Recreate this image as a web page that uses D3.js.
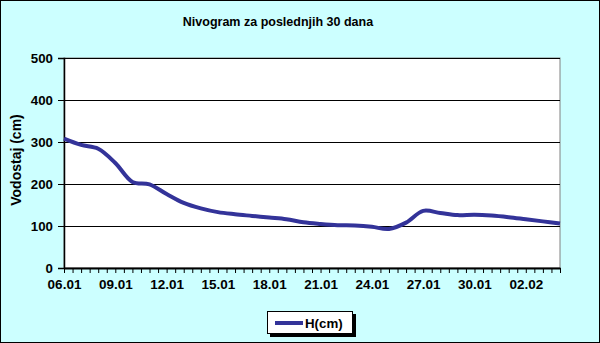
<!DOCTYPE html>
<html>
<head>
<meta charset="utf-8">
<script src="https://cdn.jsdelivr.net/npm/d3@7"></script>
<style>
  body { margin: 0; }
  svg text { font-family: "Liberation Sans", Arial, sans-serif; font-weight: bold; }
</style>
</head>
<body>
<div id="chart"></div>
<script>
// daily readings, 06.01 .. 04.02
const days = [
  '06.01', '07.01', '08.01', '09.01', '10.01', '11.01', '12.01', '13.01', '14.01', '15.01',
  '16.01', '17.01', '18.01', '19.01', '20.01', '21.01', '22.01', '23.01', '24.01', '25.01',
  '26.01', '27.01', '28.01', '29.01', '30.01', '31.01', '01.02', '02.02', '03.02', '04.02'
];
const levels = [
  308, 293, 284, 250, 205, 199, 176, 155, 142, 133,
  128, 124, 120, 116, 109, 105, 102, 101, 98, 93,
  108, 136, 131, 126, 127, 125, 121, 116, 111, 106
];
const yTicks = [0, 100, 200, 300, 400, 500];
const labelEvery = 3;
const seriesName = 'H(cm)';
const title = 'Nivogram za poslednjih 30 dana';
const yTitle = 'Vodostaj (cm)';

const width = 600;
const height = 343;
const margin = { top: 58, right: 40, bottom: 75, left: 64 };
const chartWidth = width - margin.left - margin.right;
const chartHeight = height - margin.top - margin.bottom;

const svg = d3.select('#chart').append('svg')
  .attr('width', width)
  .attr('height', height);

svg.append('rect')
  .attr('x', 0.5).attr('y', 0.5)
  .attr('width', width - 1).attr('height', height - 1)
  .attr('fill', '#ccffff')
  .attr('stroke', '#000');

svg.append('text')
  .attr('x', 278).attr('y', 26)
  .attr('text-anchor', 'middle')
  .style('font-size', '12.5px')
  .text(title);

const g = svg.append('g').attr('transform', `translate(${margin.left},${margin.top})`);

const xScale = d3.scaleLinear()
  .domain([0, days.length - 1])
  .range([0, chartWidth]);

const yScale = d3.scaleLinear()
  .domain([0, 500])
  .range([chartHeight, 0]);

g.append('rect')
  .attr('width', chartWidth)
  .attr('height', chartHeight)
  .attr('fill', '#fff')
  .attr('stroke', '#808080');

// gridlines
g.append('g')
  .selectAll('line')
  .data(yTicks.filter((d) => d > 0))
  .enter().append('line')
    .attr('x1', 0).attr('x2', chartWidth)
    .attr('y1', (d) => Math.round(yScale(d)) + 0.5)
    .attr('y2', (d) => Math.round(yScale(d)) + 0.5)
    .attr('stroke', '#000');

// y axis
const yAxis = g.append('g')
  .call(d3.axisLeft(yScale).tickValues(yTicks).tickSize(6).tickPadding(5));
yAxis.select('.domain').attr('stroke-width', 1.5);
yAxis.selectAll('text').style('font-size', '13.3px').attr('fill', '#000');

// x axis, minor ticks every half day
const halfDays = d3.range(0, days.length - 0.99, 0.5);
const xAxis = g.append('g')
  .attr('transform', `translate(0,${chartHeight})`)
  .call(d3.axisBottom(xScale)
    .tickValues(halfDays)
    .tickSize(5)
    .tickSizeOuter(0)
    .tickFormat((d) => (Number.isInteger(d) && d % labelEvery === 0 ? days[d] : '')));
xAxis.select('.domain').attr('stroke-width', 2);
xAxis.selectAll('text').style('font-size', '13.5px').attr('fill', '#000').attr('dy', '0.95em');

g.append('text')
  .attr('transform', 'rotate(-90)')
  .attr('x', -(160 - margin.top))
  .attr('y', 21 - margin.left)
  .attr('text-anchor', 'middle')
  .style('font-size', '14px')
  .text(yTitle);

const line = d3.line()
  .x((d, i) => xScale(i))
  .y((d) => yScale(d))
  .curve(d3.curveCatmullRom.alpha(0.5));

g.append('path')
  .datum(levels)
  .attr('fill', 'none')
  .attr('stroke', '#333399')
  .attr('stroke-width', 4)
  .attr('stroke-linejoin', 'round')
  .attr('d', line);

// legend
const legend = svg.append('g').attr('transform', 'translate(267,311)');
legend.append('rect')
  .attr('x', 3).attr('y', 3)
  .attr('width', 86).attr('height', 23)
  .attr('fill', '#000');
legend.append('rect')
  .attr('x', 0.5).attr('y', 0.5)
  .attr('width', 85).attr('height', 22)
  .attr('fill', '#fff')
  .attr('stroke', '#000');
legend.append('line')
  .attr('x1', 8).attr('x2', 36)
  .attr('y1', 12).attr('y2', 12)
  .attr('stroke', '#333399')
  .attr('stroke-width', 4);
legend.append('text')
  .attr('x', 38).attr('y', 16.5)
  .style('font-size', '13.3px')
  .text(seriesName);
</script>
</body>
</html>
